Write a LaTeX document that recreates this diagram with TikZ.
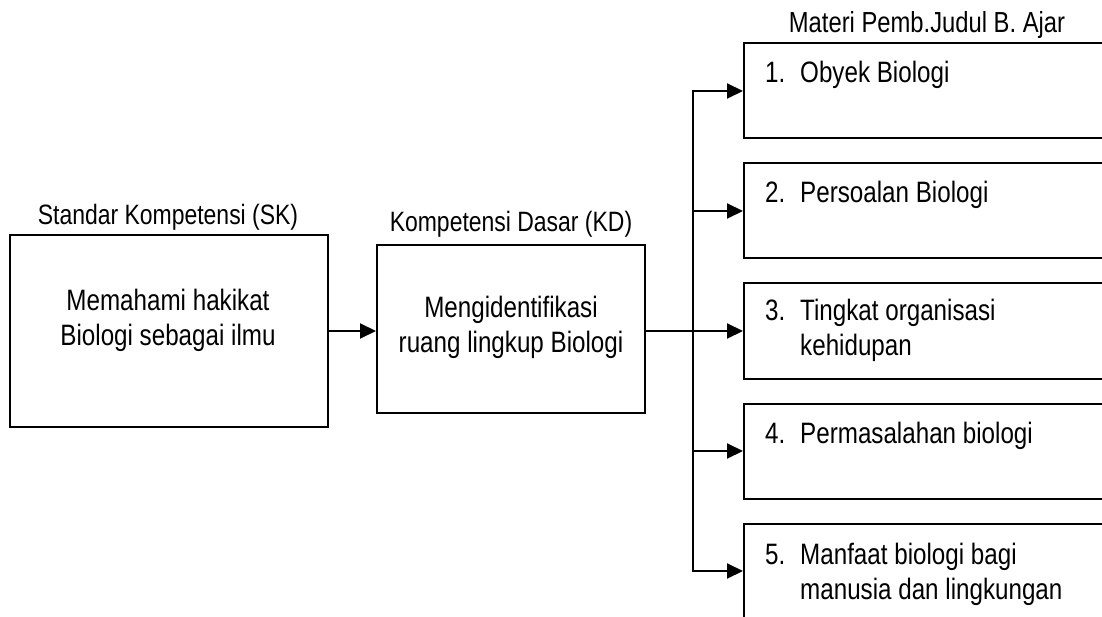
\documentclass[tikz,border=0pt]{standalone}
\usepackage{fontspec}
\setmainfont{Liberation Sans}[FakeStretch=0.82]
\usetikzlibrary{arrows.meta}
\begin{document}
\begin{tikzpicture}[x=1pt,y=-1pt,
  box/.style={draw, line width=2pt, inner sep=0pt},
  rbox/.style={box, minimum width=420pt, minimum height=95pt, anchor=west},
  conn/.style={line width=2pt},
  arr/.style={conn,-{Triangle[length=16pt,width=15pt]}},
  body/.style={font=\fontsize{29.5}{35}\selectfont, inner sep=0pt},
  lbl/.style={font=\fontsize{28}{32}\selectfont, inner sep=0pt}]
\useasboundingbox (0,0) rectangle (1102,617);
\clip (0,0) rectangle (1102,617);
% left boxes
\node[box, minimum width=318pt, minimum height=192pt] (sk) at (169,331) {};
\node[box, minimum width=268pt, minimum height=167pt] (kd) at (511,329) {};
% right boxes
\node[rbox] (b1) at (743,91) {};
\node[rbox] (b2) at (743,211) {};
\node[rbox] (b3) at (743,331) {};
\node[rbox] (b4) at (743,451) {};
\node[rbox] (b5) at (743,571) {};
% labels
\node[lbl, anchor=base] (skl) at (168,225) {Standar Kompetensi (SK)};
\node[lbl, anchor=base] (kdl) at (511,232) {Kompetensi Dasar (KD)};
\node[lbl, font=\fontsize{29}{32}\selectfont, anchor=base] (mtl) at (927,33) {Materi Pemb.Judul B. Ajar};
% box texts (base anchor = baseline of last line)
\node[body, align=center, anchor=base] (skt) at (168,345) {Memahami hakikat\\Biologi sebagai ilmu};
\node[body, align=center, anchor=base] (kdt) at (511,352) {Mengidentifikasi\\ruang lingkup Biologi};
\node[body, anchor=base west] (n1) at (765,83) {1.};
\node[body, anchor=base west] (t1) at (800,83) {Obyek Biologi};
\node[body, anchor=base west] (n2) at (765,203) {2.};
\node[body, anchor=base west] (t2) at (800,203) {Persoalan Biologi};
\node[body, anchor=base west] (n3) at (765,320) {3.};
\node[body, align=left, anchor=base west] (t3) at (800,355) {Tingkat organisasi\\kehidupan};
\node[body, anchor=base west] (n4) at (765,443) {4.};
\node[body, anchor=base west] (t4) at (800,443) {Permasalahan biologi};
\node[body, anchor=base west] (n5) at (765,564) {5.};
\node[body, align=left, anchor=base west] (t5) at (800,599) {Manfaat biologi bagi\\manusia dan lingkungan};
% connectors
\coordinate (tr) at (693,331);
\draw[arr] (sk.east) -- (sk.east -| kd.west);
\draw[conn] (kd.east |- tr) -- (tr);
\draw[conn, line cap=rect] (b1.west -| tr) -- (b5.west -| tr);
\draw[arr] (b1.west -| tr) -- (b1.west);
\draw[arr] (b2.west -| tr) -- (b2.west);
\draw[arr] (b3.west -| tr) -- (b3.west);
\draw[arr] (b4.west -| tr) -- (b4.west);
\draw[arr] (b5.west -| tr) -- (b5.west);
\end{tikzpicture}
\end{document}
